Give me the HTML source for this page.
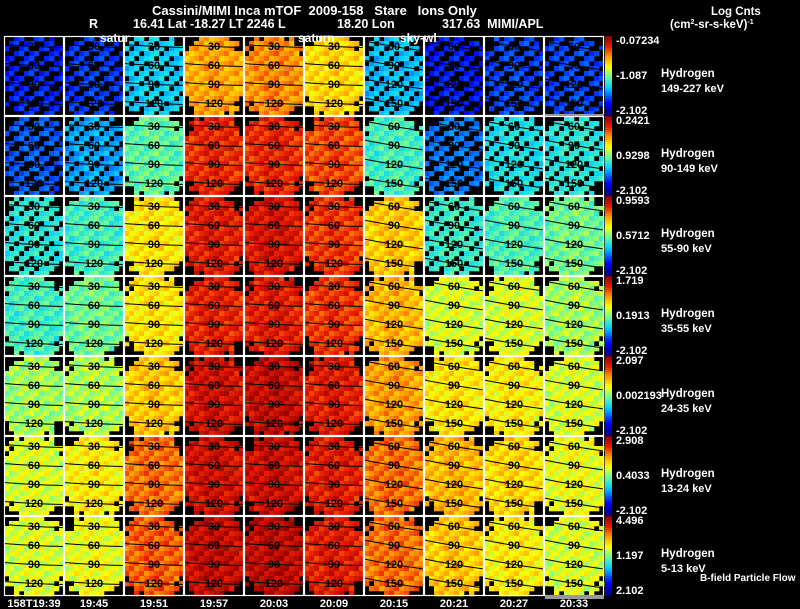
<!DOCTYPE html>
<html><head><meta charset="utf-8">
<style>
html,body{margin:0;padding:0;background:#000;width:800px;height:609px;overflow:hidden}
svg{display:block}
text{font-family:"Liberation Sans",sans-serif;font-weight:bold;fill:#fff;white-space:pre}
</style></head>
<body>
<svg id="chart" width="800" height="609" viewBox="0 0 800 609" xmlns="http://www.w3.org/2000/svg" xml:space="preserve">
<g>
<text x="152" y="15" font-size="13">Cassini/MIMI Inca mTOF  2009-158   Stare   Ions Only</text>
<text x="89" y="28" font-size="12.5">R</text>
<text x="133" y="28" font-size="12.5">16.41 Lat -18.27 LT 2246 L</text>
<text x="337" y="28" font-size="12.5">18.20 Lon</text>
<text x="442" y="28" font-size="12.5">317.63  MIMI/APL</text>
<text x="711" y="15" font-size="11.5">Log Cnts</text>
<text x="670" y="28" font-size="11.5">(cm<tspan font-size="7" dy="-4">2</tspan><tspan dy="4">-sr-s-keV)</tspan><tspan font-size="7" dy="-4">-1</tspan></text>
</g>
<g id="panels"></g>
<g id="overlay"></g>
</svg>
<script>
const times=["158T19:39","19:45","19:51","19:57","20:03","20:09","20:15","20:21","20:27","20:33"];
const channels=["149-227 keV","90-149 keV","55-90 keV","35-55 keV","24-35 keV","13-24 keV","5-13 keV"];
const cbTop=["-0.07234","0.2421","0.9593","1.719","2.097","2.908","4.496"];
const cbMid=["-1.087","0.9298","0.5712","0.1913","0.002193","0.4033","1.197"];
const cbBot=["-2.102","-2.102","-2.102","-2.102","-2.102","-2.102","2.102"];
const level0=[0.17,0.19,0.35,0.74,0.77,0.68,0.33,0.16,0.2,0.2];
const level1=[0.22,0.3,0.48,0.88,0.88,0.84,0.45,0.25,0.38,0.4];
const level2=[0.4,0.45,0.66,0.9,0.92,0.86,0.7,0.42,0.46,0.5];
const level3=[0.45,0.5,0.66,0.89,0.9,0.86,0.72,0.6,0.6,0.55];
const level4=[0.55,0.56,0.7,0.93,0.95,0.9,0.75,0.66,0.65,0.6];
const level5=[0.6,0.65,0.8,0.93,0.94,0.9,0.8,0.72,0.68,0.62];
const level6=[0.6,0.62,0.82,0.95,0.96,0.9,0.8,0.7,0.65,0.6];
const levels=[level0,level1,level2,level3,level4,level5,level6];
const contourLabelsA=["30","60","90","120"];
const contourLabelsB=["60","90","120","150"];

const NS="http://www.w3.org/2000/svg";
const X0=4,Y0=36,PW=60,PH=80;
const colX=c=>X0+c*PW, rowY=r=>Y0+r*PH;
const stops=[[0,[0,0,130]],[0.15,[0,0,255]],[0.35,[0,210,255]],[0.5,[120,255,140]],[0.62,[255,255,0]],[0.75,[255,150,0]],[0.87,[235,30,0]],[1,[150,0,0]]];
function cmap(v){v=Math.max(0,Math.min(1,v));for(let i=1;i<stops.length;i++){if(v<=stops[i][0]){const a=stops[i-1],b=stops[i],t=(v-a[0])/(b[0]-a[0]);const c=a[1].map((x,k)=>Math.round(x+(b[1][k]-x)*t));return `rgb(${c})`;}}return "rgb(150,0,0)";}
function el(tag,attrs,parent){const e=document.createElementNS(NS,tag);for(const k in attrs)e.setAttribute(k,attrs[k]);parent.appendChild(e);return e;}
const panels=document.getElementById('panels'),ov=document.getElementById('overlay');
const NC=12,NR=16,cw=PW/NC,ch=PH/NR;
levels.forEach((row,r)=>{
  row.forEach((lv,c)=>{
    const g=el('g',{},panels);
    
    
    for(let i=0;i<NR;i++)for(let j=0;j<NC;j++){
      const dx=(j-NC/2+0.5)/(NC/2),dy=(i-NR/2+0.5)/(NR/2);
      const rr=dx*dx*0.85+dy*dy;
      const h=(i*37+j*91+c*17+r*29)%11;
      if(rr>1.3)continue;
      if(rr>0.95&&h<5)continue;
      if(lv<0.45&&h<(lv<0.3?5:3))continue;
      const pat=(h-5)*0.012;
      const v=lv+pat-Math.abs(dx)*0.03;
      el('rect',{x:colX(c)+j*cw,y:rowY(r)+i*ch,width:cw+0.3,height:ch+0.3,fill:cmap(v)},g);
    }
    const late=c>=6;
    const labs=late?contourLabelsB:contourLabelsA;
    labs.forEach((lab,k)=>{
      const yy=rowY(r)+10+k*19;const sl=late?10:3;
      el('path',{d:`M${colX(c)} ${yy-sl/2} Q${colX(c)+30} ${yy+1} ${colX(c)+PW} ${yy+sl/2}`,stroke:'#000',fill:'none','stroke-width':1},ov);
      const t=el('text',{x:colX(c)+30,y:yy+4,'font-size':11,'text-anchor':'middle',style:'fill:#000'},ov);
      t.textContent=lab;
    });
    const fr=el('rect',{x:colX(c)+0.5,y:rowY(r)+0.5,width:PW-1,height:PH-1,fill:'none',stroke:'#fff','stroke-width':1.2},ov);
    
    
  });
  const cb=el('g',{},ov);
  
  
  for(let k=0;k<40;k++){el('rect',{x:605,y:rowY(r)+k*2,width:7,height:2.2,fill:cmap(1-k/39)},cb);}
  const y=rowY(r);
  [[cbTop[r],y+8],[cbMid[r],y+43],[cbBot[r],y+78]].forEach(([s,yy])=>{const t=el('text',{x:616,y:yy,'font-size':11},cb);t.textContent=s;});
  const h=el('text',{x:661,y:y+41,'font-size':11.5},ov);h.textContent='Hydrogen';
  
  
  const e=el('text',{x:661,y:y+56,'font-size':11},ov);e.textContent=channels[r];
  
  
});
times.forEach((t,c)=>{const tx=el('text',{x:colX(c)+30,y:607,'font-size':11,'text-anchor':'middle'},ov);tx.textContent=t;
  
  });
[["satur",100],["saturn",298],["sky-wl",400]].forEach(([s,x])=>{const t=el('text',{x:x,y:42,'font-size':12},ov);t.textContent=s;
  
  });
el('rect',{x:545,y:595,width:59,height:4,fill:'#999'},ov);
el('rect',{x:545,y:114,width:59,height:2,fill:'#999'},ov);
const bf=el('text',{x:700,y:581,'font-size':10},ov);bf.textContent='B-field Particle Flow';


</script>
</body></html>
